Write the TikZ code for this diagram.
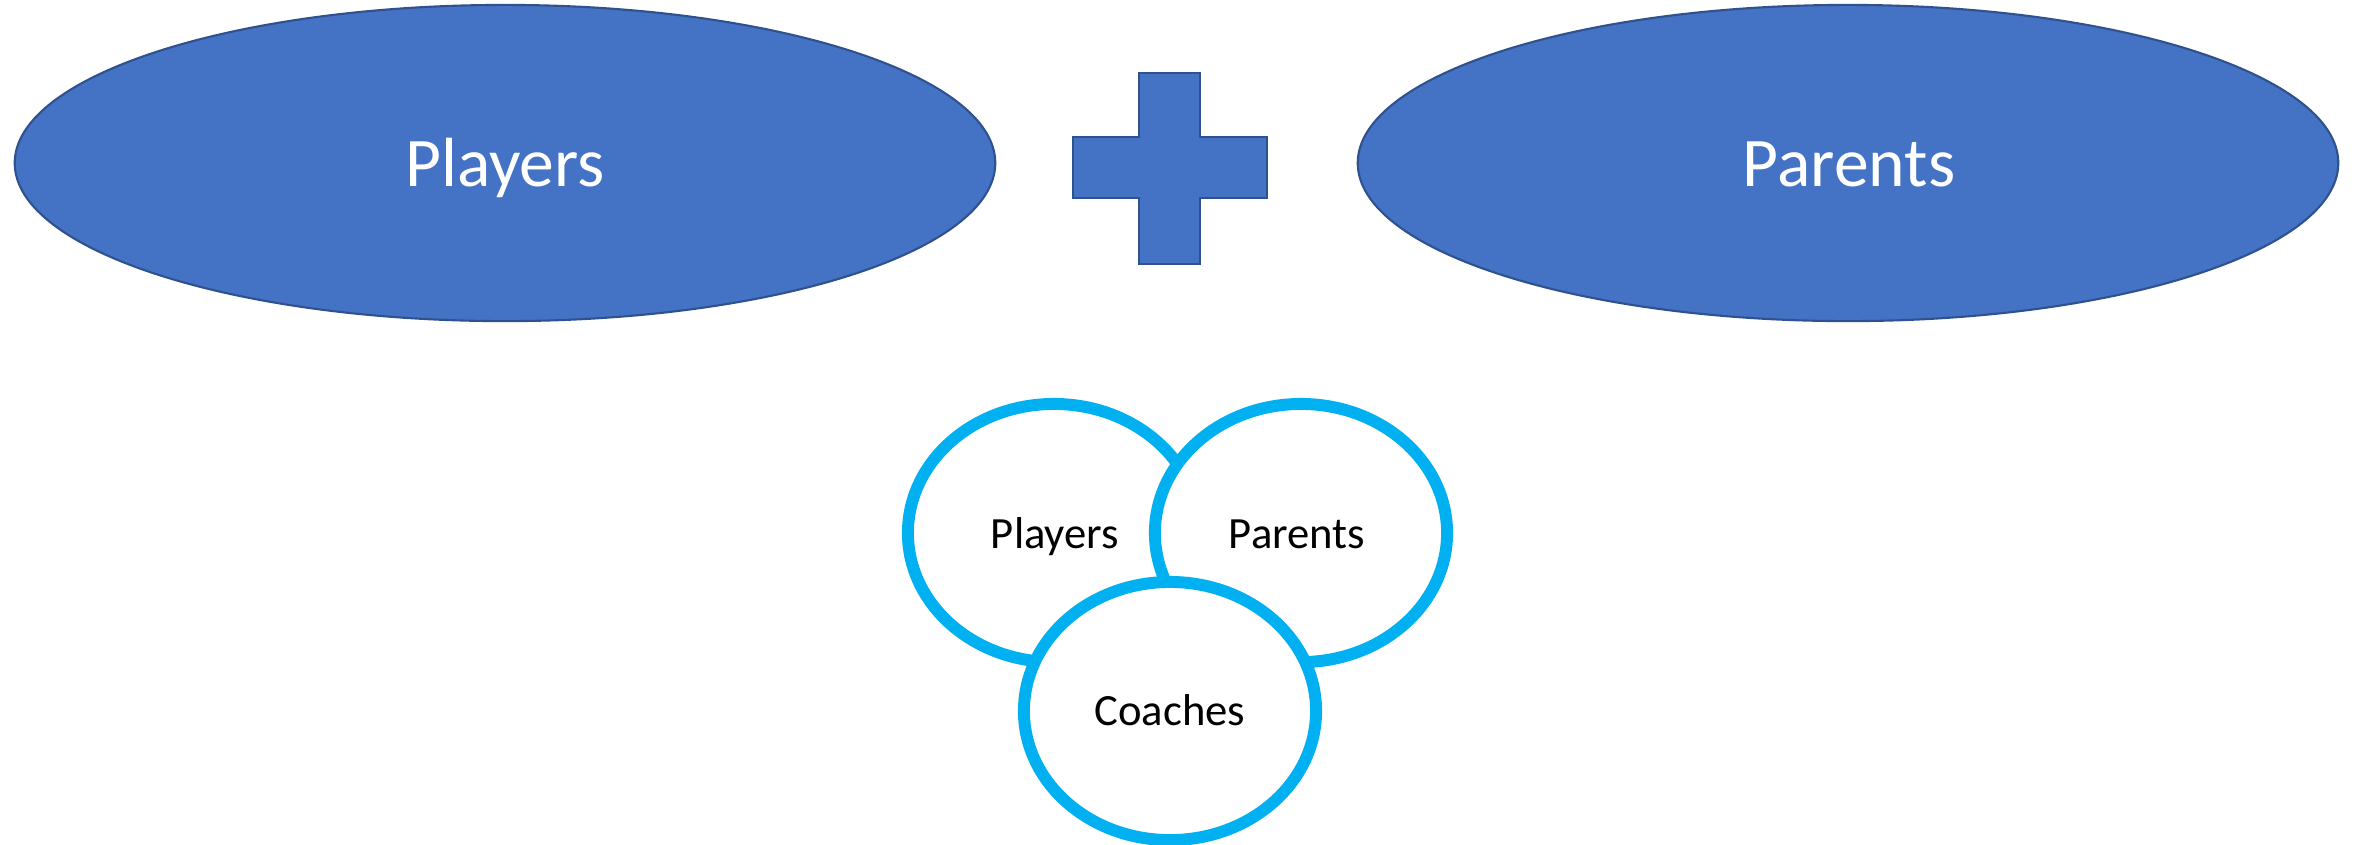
\documentclass[tikz,border=0pt]{standalone}
\usepackage{fontspec}
\setmainfont{Carlito}
\usetikzlibrary{shapes.geometric}
\definecolor{shapeblue}{HTML}{4472C4}
\definecolor{shapeborder}{HTML}{2F528F}
\definecolor{ringblue}{HTML}{00B0F0}
\tikzset{
  bigell/.style={ellipse, draw=shapeborder, fill=shapeblue, line width=0.6pt,
    minimum width=9.8cm, minimum height=3.16cm, inner sep=0pt},
  bigtxt/.style={text=white, font=\fontsize{19.8}{24}\selectfont, inner sep=0pt, anchor=base},
  plusshape/.style={draw=shapeborder, fill=shapeblue, line width=0.8pt, line join=miter},
  ring/.style={ellipse, draw=ringblue, fill=white, line width=3.4pt,
    minimum width=2.92cm, minimum height=2.58cm, inner sep=0pt},
  smalltxt/.style={text=black, font=\fontsize{12.7}{15}\selectfont, inner sep=0pt, anchor=base}
}
\begin{document}
\begin{tikzpicture}[x=0.01cm, y=-0.01cm]
\useasboundingbox (0,0) rectangle (2354,844);
% big ellipses
\node[bigell] (plE) at (505,163) {};
\node[bigell] (paE) at (1848,163) {};
\node[bigtxt] (plT) at (505,186) {Players};
\node[bigtxt] (paT) at (1849,186) {Parents};
% plus
\draw[plusshape] (1139,73) -- (1200,73) -- (1200,137) -- (1267,137) -- (1267,198)
  -- (1200,198) -- (1200,264) -- (1139,264) -- (1139,198) -- (1073,198)
  -- (1073,137) -- (1139,137) -- cycle;
% rings
\node[ring] (plR) at (1054,533) {};
\node[ring] (paR) at (1301,533) {};
\node[ring] (coR) at (1170,711) {};
\node[smalltxt] (plS) at (1055,548) {Players};
\node[smalltxt] (paS) at (1297,548) {Parents};
\node[smalltxt] (coS) at (1170,725) {Coaches};
\end{tikzpicture}
\end{document}
